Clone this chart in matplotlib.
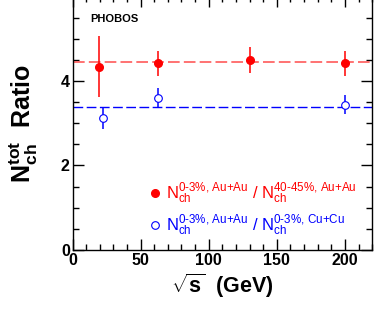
import numpy as np
import matplotlib
matplotlib.use("Agg")
import matplotlib.pyplot as plt
from matplotlib.lines import Line2D
from matplotlib.ticker import MultipleLocator, FixedLocator

plt.rcParams['font.family'] = ['Liberation Sans', 'DejaVu Sans']
plt.rcParams['mathtext.fontset'] = 'custom'
plt.rcParams['mathtext.rm'] = 'Liberation Sans'
plt.rcParams['mathtext.it'] = 'Liberation Sans:italic'
plt.rcParams['mathtext.bf'] = 'Liberation Sans:bold'

# Au+Au central / Au+Au peripheral
au_x = [19.6, 62.4, 130.0, 200.0]
au_y = [4.34, 4.42, 4.50, 4.42]
au_err = [0.73, 0.30, 0.31, 0.30]
au_mean = 4.44

# Au+Au central / Cu+Cu central
cu_x = [22.4, 62.4, 200.0]
cu_y = [3.13, 3.59, 3.44]
cu_err = [0.26, 0.24, 0.22]
cu_mean = 3.39

red = '#ff0000'
blue = '#0000ff'

fig = plt.figure(figsize=(3.74, 3.13), dpi=100)
ax = fig.add_axes([0.194, 0.2013, 0.801, 0.81])

ax.axhline(au_mean, color='#ff5a5a', lw=1.2, dashes=(7, 2.5))
ax.axhline(cu_mean, color=blue, lw=1.0, dashes=(7, 2.5))

ax.errorbar(au_x, au_y, yerr=au_err, fmt='o', color=red, ms=5.5,
            elinewidth=1.1, capsize=0, zorder=3)
ax.errorbar(cu_x, cu_y, yerr=cu_err, fmt='o', color=blue, mfc='white',
            mec=blue, mew=0.8, ms=5.5, elinewidth=1.1, capsize=0, zorder=3)

ax.set_xlim(0, 220)
ax.set_ylim(0, 6)
ax.xaxis.set_major_locator(MultipleLocator(50))
ax.xaxis.set_minor_locator(MultipleLocator(10))
ax.yaxis.set_major_locator(FixedLocator([0, 2, 4]))
ax.yaxis.set_minor_locator(MultipleLocator(0.5))
ax.tick_params(which='both', direction='in', top=True, right=True, width=1)
ax.tick_params(which='major', length=8, labelsize=11.5, pad=2)
ax.tick_params(which='minor', length=4)
plt.setp(ax.get_xticklabels() + ax.get_yticklabels(), fontweight='bold')
for s in ax.spines.values():
    s.set_linewidth(1)

ax.set_xlabel(r'$\mathbf{\sqrt{s}}$  (GeV)', fontsize=15.5, fontweight='bold', labelpad=3)
ax.set_ylabel(r'$\mathbf{N_{ch}^{tot}}$  Ratio', fontsize=18, fontweight='bold', labelpad=15)

ax.text(0.058, 0.911, 'PHOBOS', transform=ax.transAxes, fontsize=8,
        fontweight='bold', va='center')

lab_au = r'$\mathrm{N}_{\mathrm{ch}}^{\text{0-3%, Au+Au}}\ /\ \mathrm{N}_{\mathrm{ch}}^{\text{40-45%, Au+Au}}$'
lab_cu = r'$\mathrm{N}_{\mathrm{ch}}^{\text{0-3%, Au+Au}}\ /\ \mathrm{N}_{\mathrm{ch}}^{\text{0-3%, Cu+Cu}}$'
handles = [Line2D([], [], ls='none', marker='o', color=red, ms=5.5),
           Line2D([], [], ls='none', marker='o', mfc='white', mec=blue, mew=0.8, ms=5.5)]
leg = ax.legend(handles, [lab_au, lab_cu], loc='center left',
                bbox_to_anchor=(0.225, 0.161), frameon=False, fontsize=12,
                handlelength=0.8, handletextpad=0.25, labelspacing=0.38,
                borderpad=0)
for t, c in zip(leg.get_texts(), [red, blue]):
    t.set_color(c)

fig.savefig('out.png', dpi=100)
